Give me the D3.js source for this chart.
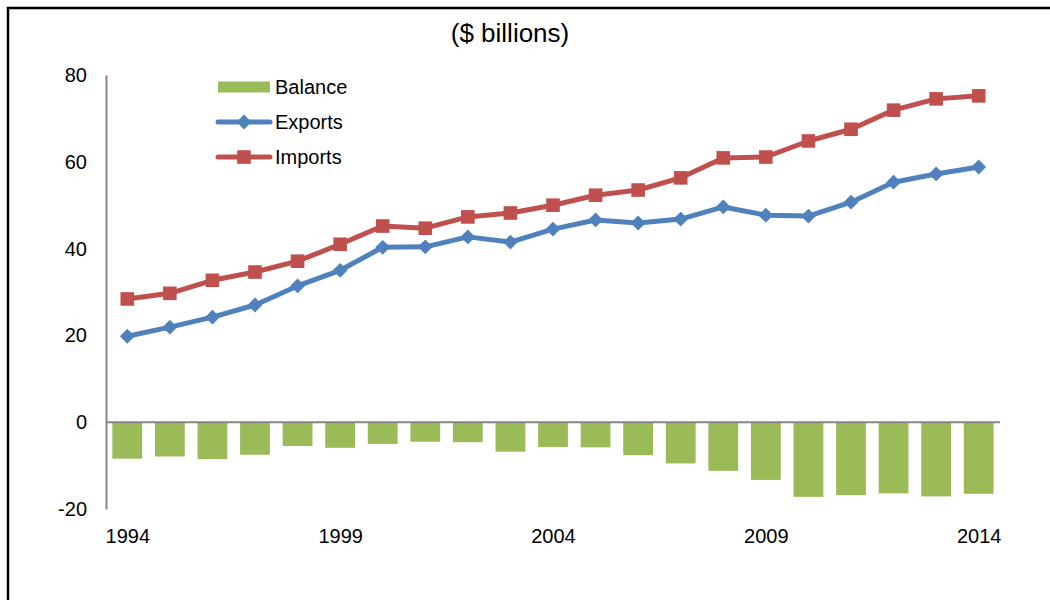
<!DOCTYPE html>
<html>
<head>
<meta charset="utf-8">
<script src="https://cdn.jsdelivr.net/npm/d3@7"></script>
<style>
  html, body { margin: 0; padding: 0; background: #fff; }
  svg { display: block; font-family: "Liberation Sans", Arial, sans-serif; }
</style>
</head>
<body>
<svg id="chart" width="1050" height="600"></svg>
<script>
const years = [1994,1995,1996,1997,1998,1999,2000,2001,2002,2003,2004,2005,2006,2007,2008,2009,2010,2011,2012,2013,2014];
const exportsVals = [19.8,21.9,24.2,27.0,31.4,35.0,40.3,40.4,42.7,41.5,44.5,46.6,45.9,46.8,49.6,47.7,47.5,50.7,55.3,57.2,58.8];
const importsVals = [28.4,29.7,32.7,34.6,37.1,41.0,45.2,44.7,47.3,48.2,50.0,52.3,53.5,56.3,60.9,61.1,64.8,67.5,71.9,74.5,75.2];
const balanceVals = [-8.4,-7.9,-8.5,-7.5,-5.5,-5.9,-5.0,-4.5,-4.6,-6.8,-5.7,-5.8,-7.6,-9.5,-11.2,-13.3,-17.2,-16.8,-16.4,-17.1,-16.5];
const yTicks = [-20,0,20,40,60,80];
const xTickLabels = [1994,1999,2004,2009,2014];
const titleText = "($ billions)";
const seriesNames = ["Balance","Exports","Imports"];

const colors = { Balance: "#9BBB59", Exports: "#4F81BD", Imports: "#C0504D" };

const svg = d3.select("#chart");
const mLeft = 106, mRight = 1000, mTop = 75, mBottom = 509;
const FONT = "Liberation Sans, Arial, sans-serif";

// frame
svg.append("path")
  .attr("d", `M8,600 L8,8 L1050,8`)
  .attr("fill", "none").attr("stroke", "#000").attr("stroke-width", 2.5);

const x = d3.scaleBand().domain(years).range([mLeft, mRight]).paddingInner(0.3).paddingOuter(0.15);
const step = (mRight - mLeft) / years.length;
const xc = d3.scalePoint().domain(years).range([mLeft + step/2, mRight - step/2]);
const y = d3.scaleLinear().domain([-20, 80]).range([mBottom, mTop]);

// title
svg.append("text").attr("x", 510).attr("y", 42).attr("text-anchor", "middle")
  .attr("font-size", 26).attr("fill", "#000").attr("font-family", FONT).text(titleText);

// bars
svg.append("g").selectAll("rect").data(years).join("rect")
  .attr("x", d => x(d))
  .attr("width", x.bandwidth())
  .attr("y", (d,i) => Math.min(y(0), y(balanceVals[i])))
  .attr("height", (d,i) => Math.abs(y(balanceVals[i]) - y(0)))
  .attr("fill", colors.Balance);

// y axis
const yAxis = d3.axisLeft(y).tickValues(yTicks).tickSize(0).tickPadding(19).tickFormat(d => String(d));
const gy = svg.append("g").attr("transform", `translate(${mLeft},0)`).call(yAxis);
gy.select(".domain").attr("stroke", "#868686").attr("stroke-width", 2);
gy.selectAll("text").attr("font-size", 20).attr("fill", "#000").attr("font-family", FONT);

// zero line
svg.append("line").attr("x1", mLeft).attr("x2", mRight).attr("y1", y(0)).attr("y2", y(0))
  .attr("stroke", "#868686").attr("stroke-width", 2);

// x axis labels
const xAxis = d3.axisBottom(xc).tickValues(xTickLabels).tickSize(0).tickPadding(11).tickFormat(d => String(d));
const gx = svg.append("g").attr("transform", `translate(0,${mBottom + 9})`).call(xAxis);
gx.select(".domain").remove();
gx.selectAll("text").attr("font-size", 20).attr("fill", "#000").attr("font-family", FONT);

// lines
const line = d3.line().x((d,i) => xc(years[i])).y(d => y(d));
const diamondSize = 110, squareSize = 185;
function drawSeries(vals, color, marker) {
  svg.append("path").datum(vals).attr("d", line)
    .attr("fill", "none").attr("stroke", color).attr("stroke-width", 5).attr("stroke-linejoin", "round");
  const sym = d3.symbol().type(d3.symbolSquare).size(marker === "diamond" ? diamondSize : squareSize);
  svg.append("g").selectAll("path").data(vals).join("path")
    .attr("d", sym)
    .attr("transform", (d,i) => `translate(${xc(years[i])},${y(d)})` + (marker === "diamond" ? " rotate(45)" : ""))
    .attr("fill", color);
}
drawSeries(exportsVals, colors.Exports, "diamond");
drawSeries(importsVals, colors.Imports, "square");

// legend
const lg = svg.append("g");
const lx = 218, lw = 52;
const rows = [87, 122, 157];
lg.append("rect").attr("x", lx).attr("y", rows[0]-5.5).attr("width", lw).attr("height", 11).attr("fill", colors.Balance);
lg.append("line").attr("x1", lx).attr("x2", lx+lw).attr("y1", rows[1]).attr("y2", rows[1])
  .attr("stroke", colors.Exports).attr("stroke-width", 5).attr("stroke-linecap", "round");
lg.append("path").attr("d", d3.symbol().type(d3.symbolSquare).size(diamondSize)).attr("transform", `translate(${lx+lw/2},${rows[1]}) rotate(45)`).attr("fill", colors.Exports);
lg.append("line").attr("x1", lx).attr("x2", lx+lw).attr("y1", rows[2]).attr("y2", rows[2])
  .attr("stroke", colors.Imports).attr("stroke-width", 5).attr("stroke-linecap", "round");
lg.append("path").attr("d", d3.symbol().type(d3.symbolSquare).size(squareSize)).attr("transform", `translate(${lx+lw/2},${rows[2]})`).attr("fill", colors.Imports);
seriesNames.forEach((n,i) => {
  lg.append("text").attr("x", lx + lw + 5).attr("y", rows[i]).attr("dy", "0.35em")
    .attr("font-size", 20).attr("fill", "#000").attr("font-family", FONT).text(n);
});
</script>
</body>
</html>
